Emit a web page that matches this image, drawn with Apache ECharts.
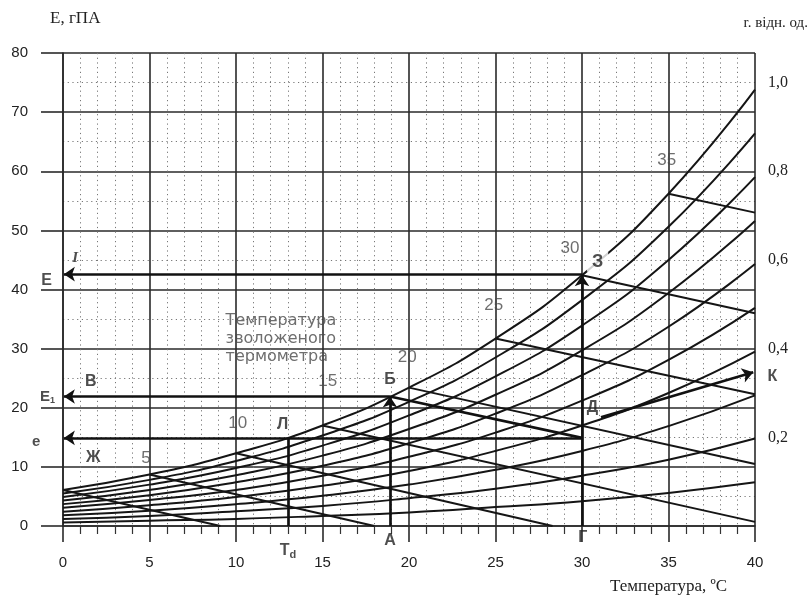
<!DOCTYPE html>
<html><head><meta charset="utf-8">
<script src="https://cdn.jsdelivr.net/npm/echarts@6/dist/echarts.min.js"></script>
<style>html,body{margin:0;padding:0;background:#fff}#c{width:810px;height:601px}</style>
</head><body><div id="c"></div><script>
// ---- data ----
const temperatures = [0, 5, 10, 15, 20, 25, 30, 35, 40];
// vapour pressure E (hPa) along the relative humidity curves r = 1.0 ... 0.1
const curveR10 = [6.1, 8.7, 12.3, 17.0, 23.4, 31.7, 42.4, 56.2, 73.8];
const curveR09 = [5.5, 7.8, 11.0, 15.3, 21.0, 28.5, 38.2, 50.6, 66.4];
const curveR08 = [4.9, 7.0, 9.8, 13.6, 18.7, 25.3, 33.9, 45.0, 59.0];
const curveR07 = [4.3, 6.1, 8.6, 11.9, 16.4, 22.2, 29.7, 39.4, 51.6];
const curveR06 = [3.7, 5.2, 7.4, 10.2, 14.0, 19.0, 25.5, 33.7, 44.3];
const curveR05 = [3.1, 4.4, 6.1, 8.5, 11.7, 15.8, 21.2, 28.1, 36.9];
const curveR04 = [2.4, 3.5, 4.9, 6.8, 9.3, 12.7, 17.0, 22.5, 29.5];
const curveR03 = [1.8, 2.6, 3.7, 5.1, 7.0, 9.5, 12.7, 16.9, 22.1];
const curveR02 = [1.2, 1.7, 2.5, 3.4, 4.7, 6.3, 8.5, 11.2, 14.8];
const curveR01 = [0.6, 0.9, 1.2, 1.7, 2.3, 3.2, 4.2, 5.6, 7.4];
const humidityCurves = [curveR10, curveR09, curveR08, curveR07, curveR06, curveR05, curveR04, curveR03, curveR02, curveR01];

// wet-bulb temperature lines: start on the saturation curve, end on the frame
const wetBulbStart = [[0, 6.1], [5, 8.7], [10, 12.3], [15, 17.0], [20, 23.4], [25, 31.7], [30, 42.4], [35, 56.2]];
const wetBulbEnd   = [[9.1, 0], [18.0, 0], [28.3, 0], [40, 0.7], [40, 10.5], [40, 22.3], [40, 36.0], [40, 53.0]];
const wetBulbLabels = ['5', '10', '15', '20', '25', '30', '35'];
const wetBulbLabelX = [4.8, 10.1, 15.3, 19.9, 24.9, 29.3, 34.9];
const wetBulbLabelY = [11.5, 17.4, 24.5, 28.6, 37.4, 47.0, 61.9];

// worked example (arrows and guide lines)
const arrowStart = [[30, 0], [30, 42.6], [18.9, 0], [18.9, 21.9], [30, 14.9], [31.1, 18.4]];
const arrowEnd   = [[30, 42.4], [0.05, 42.6], [18.9, 21.9], [0.05, 21.9], [0.05, 14.9], [39.9, 26.0]];
const guideStart = [[18.9, 21.9], [13.0, 14.9]];
const guideEnd   = [[30, 14.9], [13.0, 0]];

// point letters
const pointLetters = ['З', 'Б', 'Л', 'Д', 'А', 'Г', 'К', 'В', 'Ж', 'E'];
const pointLetterX = [30.9, 18.9, 12.7, 30.6, 18.9, 30.05, 41.0, 1.6, 1.75, -0.95];
const pointLetterY = [44.7, 24.7, 17.1, 20.0, -2.4, -2.0, 25.2, 24.4, 11.5, 41.5];

const leftTickLabels = ['0', '10', '20', '30', '40', '50', '60', '70', '80'];
const rightTickLabels = ['0,2', '0,4', '0,6', '0,8', '1,0'];
const bottomTickLabels = ['0', '5', '10', '15', '20', '25', '30', '35', '40'];

// ---- chart ----
const ink = '#151515';
const chart = echarts.init(document.getElementById('c'), null, {renderer: 'canvas'});

const series = [];
humidityCurves.forEach(function (vals) {
  series.push({
    type: 'line', silent: true, symbol: 'none', smooth: 0.5,
    data: temperatures.map(function (t, i) { return [t, vals[i]]; }),
    lineStyle: {color: ink, width: 2}, z: 3
  });
});
series.push({
  type: 'lines', coordinateSystem: 'cartesian2d', silent: true, symbol: 'none',
  data: wetBulbStart.map(function (s, i) { return {coords: [s, wetBulbEnd[i]]}; }),
  lineStyle: {color: ink, width: 2, opacity: 1}, z: 3
});
series.push({
  type: 'lines', coordinateSystem: 'cartesian2d', silent: true, symbol: 'none',
  data: guideStart.map(function (s, i) { return {coords: [s, guideEnd[i]]}; }),
  lineStyle: {color: '#111', width: 2.7, opacity: 1}, z: 4
});
series.push({
  type: 'lines', coordinateSystem: 'cartesian2d', silent: true,
  symbol: ['none', 'arrow'], symbolSize: [0, 11],
  data: arrowStart.map(function (s, i) { return {coords: [s, arrowEnd[i]]}; }),
  lineStyle: {color: '#111', width: 2.7, opacity: 1}, z: 4
});
function labelSeries(data, label) {
  return {
    type: 'scatter', silent: true, clip: false, symbolSize: 1,
    itemStyle: {color: 'rgba(0,0,0,0)'},
    data: data, z: 10,
    label: Object.assign({show: true, position: 'inside', formatter: '{b}'}, label)
  };
}
series.push(labelSeries(
  wetBulbLabels.map(function (n, i) { return {name: n, value: [wetBulbLabelX[i], wetBulbLabelY[i]]}; }),
  {color: '#4a4a4a', fontSize: 17, fontFamily: 'Liberation Sans'}
));
series.push(labelSeries(
  pointLetters.map(function (n, i) {
    const item = {name: n, value: [pointLetterX[i], pointLetterY[i]]};
    if (n === 'З') item.label = {backgroundColor: '#fff', padding: [1, 5], fontSize: 18};
    return item;
  }),
  {color: '#222', fontSize: 16, fontWeight: 'bold', fontFamily: 'Liberation Sans'}
));
series.push(labelSeries(
  [{name: 'I', value: [0.7, 45.3]}],
  {color: '#222', fontSize: 15, fontWeight: 'bold', fontStyle: 'italic', fontFamily: 'Liberation Serif'}
));
series.push(labelSeries(
  [{name: 'e', value: [-1.55, 14.3]}],
  {color: '#222', fontSize: 15, fontWeight: 'bold', fontFamily: 'Liberation Sans'}
));
series.push(labelSeries(
  [{name: 'E1', value: [-0.9, 21.9]}],
  {formatter: '{m|E}{s|1}', rich: {
    m: {color: '#222', fontSize: 15, fontWeight: 'bold', fontFamily: 'Liberation Sans'},
    s: {color: '#222', fontSize: 9, fontWeight: 'bold', fontFamily: 'Liberation Sans', padding: [8, 0, 0, 0]}
  }}
));
series.push(labelSeries(
  [{name: 'Td', value: [13.0, -4.1]}],
  {formatter: '{m|T}{s|d}', rich: {
    m: {color: '#222', fontSize: 16, fontWeight: 'bold', fontFamily: 'Liberation Sans'},
    s: {color: '#222', fontSize: 11, fontWeight: 'bold', fontFamily: 'Liberation Sans', padding: [9, 0, 0, 0]}
  }}
));
series.push(labelSeries(
  [{name: 'Температура\nзволоженого\nтермометра', value: [9.4, 31.7]}],
  {color: '#4a4a4a', fontSize: 16, align: 'left', lineHeight: 18, fontFamily: 'DejaVu Sans'}
));

chart.setOption({
  animation: false,
  backgroundColor: '#fff',
  grid: {left: 63, right: 55, top: 53, bottom: 75, containLabel: false, outerBoundsMode: 'none'},
  xAxis: {
    type: 'value', min: 0, max: 40, interval: 5,
    axisLine: {show: true, onZero: false, lineStyle: {color: '#2a2a2a', width: 1.6}},
    axisTick: {show: true, length: 16, lineStyle: {color: '#2a2a2a', width: 1.6}},
    minorTick: {show: true, splitNumber: 5, length: 8, lineStyle: {color: '#333', width: 1.2}},
    splitLine: {show: true, lineStyle: {color: '#2a2a2a', width: 1.6}},
    minorSplitLine: {show: true, lineStyle: {color: '#777', width: 1, type: [1.2, 3.5]}},
    axisLabel: {margin: 29, fontSize: 15, color: '#222', fontFamily: 'Liberation Sans',
      formatter: function (v) { return bottomTickLabels[Math.round(v / 5)]; }}
  },
  yAxis: [{
    type: 'value', min: 0, max: 80, interval: 10,
    axisLine: {show: true, onZero: false, lineStyle: {color: '#2a2a2a', width: 1.6}},
    axisTick: {show: true, length: 22, lineStyle: {color: '#2a2a2a', width: 1.6}},
    minorTick: {show: false, splitNumber: 2},
    splitLine: {show: true, lineStyle: {color: '#2a2a2a', width: 1.6}},
    minorSplitLine: {show: true, lineStyle: {color: '#777', width: 1, type: [1.2, 3.5]}},
    axisLabel: {margin: 35, fontSize: 15, color: '#222', fontFamily: 'Liberation Sans',
      formatter: function (v) { return leftTickLabels[Math.round(v / 10)]; }}
  }, {
    type: 'value', position: 'right', min: 0, max: 80 / 75, interval: 0.2, alignTicks: false,
    axisLine: {show: false}, axisTick: {show: false}, splitLine: {show: false},
    axisLabel: {margin: 13, fontSize: 16, color: '#222', fontFamily: 'Liberation Serif',
      formatter: function (v) {
        const k = Math.round(v / 0.2);
        if (k < 1 || k > 5 || Math.abs(v - k * 0.2) > 1e-6) return '';
        return rightTickLabels[k - 1];
      }}
  }],
  graphic: [
    {type: 'text', left: 50, top: 10, style: {text: 'E, гПА', font: '17px "Liberation Serif"', fill: '#222'}},
    {type: 'text', right: 2, top: 16, style: {text: 'r. відн. од.', font: '15px "Liberation Serif"', fill: '#222'}},
    {type: 'text', left: 610, top: 578, style: {text: 'Температура, ºC', font: '17px "Liberation Serif"', fill: '#222'}}
  ],
  series: series
});
</script></body></html>
